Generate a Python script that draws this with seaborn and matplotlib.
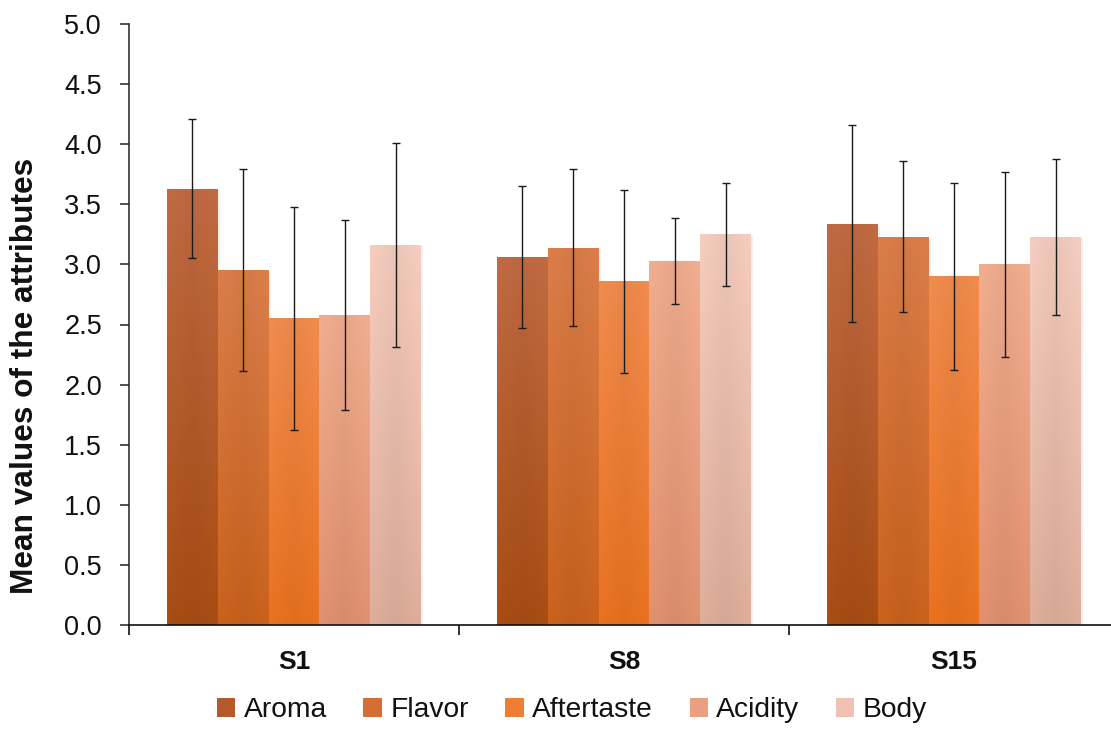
import numpy as np
import pandas as pd
import matplotlib
matplotlib.use("Agg")
import matplotlib.pyplot as plt
import matplotlib.colors as mcolors
from matplotlib.patches import Patch
import seaborn as sns

samples = ["S1", "S8", "S15"]
attributes = ["Aroma", "Flavor", "Aftertaste", "Acidity", "Body"]

aroma = [3.63, 3.06, 3.34]
flavor = [2.95, 3.14, 3.23]
aftertaste = [2.55, 2.86, 2.90]
acidity = [2.58, 3.03, 3.00]
body = [3.16, 3.25, 3.23]

aroma_sd = [0.58, 0.59, 0.82]
flavor_sd = [0.84, 0.65, 0.63]
aftertaste_sd = [0.93, 0.76, 0.78]
acidity_sd = [0.79, 0.36, 0.77]
body_sd = [0.85, 0.43, 0.65]

yticks = [0.0, 0.5, 1.0, 1.5, 2.0, 2.5, 3.0, 3.5, 4.0, 4.5, 5.0]

means = [aroma, flavor, aftertaste, acidity, body]
sds = [aroma_sd, flavor_sd, aftertaste_sd, acidity_sd, body_sd]

# top / bottom shades of each attribute's gradient fill, plus a legend swatch
top_colors = ["#C26B43", "#DC7E4A", "#F28C4E", "#F2AE90", "#F6CDBF"]
bottom_colors = ["#A84D13", "#CA621C", "#EA721F", "#E1916F", "#DFAE9B"]
swatch_colors = ["#B5592A", "#D36F33", "#EE7D36", "#EAA080", "#EFC2B2"]

df = pd.DataFrame({
    "sample": np.repeat(samples, len(attributes)).tolist(),
    "attribute": attributes * len(samples),
})
df["mean"] = [means[a][s] for s in range(len(samples)) for a in range(len(attributes))]

sns.set_theme(style="white")
plt.rcParams["font.family"] = ["Liberation Sans", "DejaVu Sans"]

fig = plt.figure(figsize=(11.11, 7.29), dpi=100)
ax = fig.add_axes([129 / 1111, 1 - 625 / 729, 990 / 1111, 601 / 729])

sns.barplot(data=df, x="sample", y="mean", hue="attribute",
            order=samples, hue_order=attributes, palette=swatch_colors,
            width=0.77, gap=0, errorbar=None, legend=False,
            linewidth=0, saturation=1, ax=ax)

ax.set_xlim(-0.5, 2.5)
ax.set_ylim(0, 5.0)

bar_groups = list(ax.containers)

# gradient fill clipped to each bar, with a soft shadow on the right
for k, container in enumerate(bar_groups):
    c_top = np.array(mcolors.to_rgb(top_colors[k]))
    c_bot = np.array(mcolors.to_rgb(bottom_colors[k]))
    t = np.linspace(0, 1, 256)[:, None]
    h = np.linspace(0, 1, 32)[None, :]
    grad = (1 - t)[..., None] * c_top + t[..., None] * c_bot
    grad = grad * (1.0 - 0.04 * (1 - np.abs(h - 0.5) * 2))[..., None]
    grad = np.clip(grad, 0, 1)
    for j, bar in enumerate(container.patches):
        x0 = bar.get_x()
        w = bar.get_width()
        hgt = bar.get_height()
        shadow = plt.Rectangle((x0 + w * 0.04, 0), w, hgt - 0.01,
                               facecolor="#000000", alpha=0.06,
                               linewidth=0, zorder=1.5)
        ax.add_patch(shadow)
        im = ax.imshow(grad, extent=[x0, x0 + w, 0, hgt], aspect="auto",
                       origin="upper", zorder=2, interpolation="bilinear")
        im.set_clip_path(bar)
        bar.set_zorder(2)
        cx = x0 + w / 2
        ax.errorbar(cx, means[k][j], yerr=sds[k][j], fmt="none",
                    ecolor="#1a1a1a", elinewidth=1.0, capsize=3.2,
                    capthick=1.0, zorder=4)

ax.set_xlim(-0.5, 2.5)
ax.set_ylim(0, 5.0)

ax.set_yticks(yticks)
ax.set_yticklabels([f"{v:.1f}" for v in yticks], fontsize=19.5, color="#111111")
ax.set_xticks(range(len(samples)))
ax.set_xticklabels(samples, fontsize=19, fontweight="bold", color="#111111")
ax.set_xticks([-0.5, 0.5, 1.5, 2.5], minor=True)
ax.tick_params(axis="x", which="major", length=0, pad=18)
ax.tick_params(axis="x", which="minor", length=7, width=1.2, color="#111111",
               direction="out", bottom=True)
ax.tick_params(axis="y", length=6.5, width=1.1, color="#222222", direction="out",
               left=True, pad=13)

ax.set_ylabel("Mean values of the attributes", fontsize=22.8,
              fontweight="bold", color="#111111")
ax.yaxis.set_label_coords(-0.090, 0.414)
ax.set_xlabel("")

for side in ["top", "right"]:
    ax.spines[side].set_visible(False)
ax.spines["left"].set_color("#222222")
ax.spines["left"].set_linewidth(1.1)
ax.spines["bottom"].set_color("#111111")
ax.spines["bottom"].set_linewidth(1.2)

handles = [Patch(facecolor=c, edgecolor="none") for c in swatch_colors]
fig.legend(handles, attributes, loc="center", bbox_to_anchor=(572 / 1111, 1 - 710 / 729),
           ncol=5, frameon=False, fontsize=20.3, handlelength=0.65, handleheight=0.65,
           handletextpad=0.3, columnspacing=1.3, labelcolor="#111111")

fig.savefig("out.png", dpi=100)
